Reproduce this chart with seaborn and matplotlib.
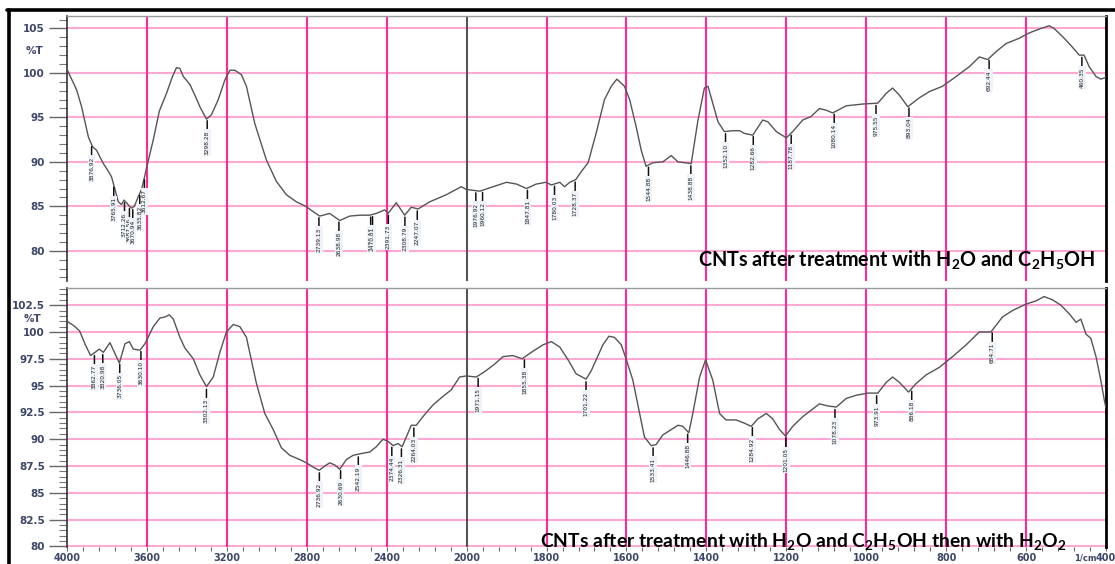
import numpy as np
import matplotlib
matplotlib.use("Agg")
import matplotlib.pyplot as plt
import seaborn as sns
from matplotlib.lines import Line2D
from matplotlib.ticker import FixedLocator

# ---------------- data ----------------
top_wn = [4000, 3952, 3927, 3893, 3872, 3852, 3818, 3792, 3777, 3760, 3743, 3727, 3715, 3702,
          3688, 3677, 3663, 3643, 3627, 3615, 3602, 3568, 3538, 3502, 3472, 3452, 3435, 3418,
          3385, 3360, 3335, 3302, 3277, 3243, 3210, 3185, 3160, 3127, 3102, 3060, 3002, 2952,
          2902, 2852, 2805, 2768, 2735, 2685, 2635, 2585, 2535, 2485, 2452, 2410, 2393, 2352,
          2310, 2277, 2243, 2185, 2102, 2027, 2002, 1984, 1967, 1934, 1900, 1875, 1850, 1826,
          1801, 1788, 1767, 1755, 1742, 1727, 1713, 1696, 1676, 1655, 1638, 1624, 1605, 1592,
          1576, 1563, 1551, 1534, 1509, 1488, 1471, 1455, 1438, 1421, 1405, 1396, 1384, 1371,
          1355, 1334, 1317, 1305, 1284, 1259, 1246, 1225, 1200, 1184, 1159, 1138, 1117, 1100,
          1084, 1050, 1009, 971, 950, 934, 917, 896, 867, 842, 809, 775, 742, 717, 696, 675,
          650, 617, 592, 563, 542, 530, 509, 488, 467, 455, 442, 425, 413, 400]
top_T = [100.4, 98.1, 96.2, 92.8, 91.7, 91.3, 89.8, 88.9, 88.3, 86.9, 85.5, 85.2, 85.7, 85.4,
         85.0, 84.8, 85.0, 86.1, 86.9, 88.0, 89.3, 92.5, 95.7, 97.7, 99.6, 100.6, 100.5, 99.6,
         98.7, 97.5, 96.2, 94.8, 95.3, 97.0, 99.2, 100.3, 100.3, 99.8, 98.5, 94.3, 90.2, 87.8,
         86.3, 85.5, 85.0, 84.4, 83.9, 84.2, 83.4, 83.9, 84.0, 84.0, 84.2, 84.6, 84.2, 85.4,
         84.0, 84.9, 84.7, 85.5, 86.3, 87.2, 86.9, 86.8, 86.7, 87.2, 87.7, 87.5, 87.0, 87.5,
         87.7, 87.4, 87.7, 87.2, 87.7, 88.0, 88.9, 89.9, 93.2, 97.0, 98.5, 99.3, 98.5, 97.0,
         94.0, 91.3, 89.5, 89.9, 90.0, 90.7, 90.0, 89.9, 89.8, 94.7, 98.3, 98.5, 96.6, 94.5,
         93.4, 93.5, 93.5, 93.2, 93.0, 94.7, 94.5, 93.4, 92.7, 93.4, 94.7, 95.1, 96.0, 95.8,
         95.5, 96.3, 96.5, 96.6, 97.7, 98.3, 97.5, 96.2, 97.2, 97.9, 98.5, 99.6, 100.7, 101.8,
         101.5, 102.4, 103.3, 103.9, 104.5, 105.0, 105.3, 105.0, 104.1, 103.1, 102.0, 102.0,
         100.7, 99.6, 99.3, 99.5]

bot_wn = [4000, 3967, 3937, 3908, 3882, 3860, 3838, 3818, 3785, 3760, 3738, 3710, 3688, 3668,
          3635, 3610, 3568, 3535, 3510, 3488, 3468, 3435, 3410, 3368, 3335, 3302, 3268, 3235,
          3202, 3168, 3135, 3102, 3052, 3010, 2968, 2927, 2885, 2835, 2802, 2768, 2738, 2710,
          2685, 2660, 2635, 2602, 2568, 2518, 2485, 2452, 2418, 2393, 2368, 2343, 2323, 2302,
          2277, 2252, 2210, 2168, 2118, 2077, 2035, 2002, 1976, 1955, 1930, 1909, 1884, 1861,
          1846, 1830, 1809, 1788, 1767, 1746, 1726, 1701, 1688, 1671, 1659, 1644, 1630, 1613,
          1601, 1584, 1567, 1555, 1538, 1526, 1509, 1488, 1471, 1459, 1444, 1434, 1417, 1402,
          1384, 1367, 1351, 1326, 1305, 1288, 1271, 1250, 1234, 1217, 1202, 1184, 1159, 1138,
          1117, 1096, 1075, 1050, 1025, 996, 971, 950, 934, 917, 894, 875, 850, 817, 784, 750,
          717, 688, 659, 634, 600, 575, 555, 534, 513, 492, 475, 463, 450, 438, 425, 413, 404, 400]
bot_T = [101.0, 100.6, 100.1, 98.8, 97.8, 98.1, 98.4, 98.1, 99.0, 98.0, 97.1, 98.9, 99.1, 98.4,
         98.3, 98.9, 100.5, 101.3, 101.4, 101.6, 101.2, 99.5, 98.5, 97.5, 96.0, 94.9, 95.8, 98.1,
         100.0, 100.7, 100.5, 99.5, 95.2, 92.4, 90.9, 89.2, 88.5, 88.1, 87.8, 87.4, 87.1, 87.5,
         87.8, 87.6, 87.2, 88.1, 88.5, 88.7, 88.8, 89.3, 90.0, 89.8, 89.4, 89.6, 89.3, 90.2,
         91.3, 91.3, 92.3, 93.2, 94.0, 94.6, 95.8, 95.9, 95.8, 96.3, 97.0, 97.7, 97.8, 97.5,
         97.9, 98.3, 98.8, 99.1, 98.6, 97.4, 96.1, 95.6, 96.4, 97.8, 98.8, 99.6, 99.5, 98.8,
         97.5, 95.5, 92.4, 90.2, 89.4, 89.5, 90.4, 90.9, 91.3, 91.2, 90.6, 92.4, 95.8, 97.4,
         95.5, 92.4, 91.8, 91.8, 91.5, 91.2, 91.9, 92.4, 91.9, 90.9, 90.3, 91.2, 92.1, 92.7,
         93.3, 93.1, 93.0, 93.8, 94.1, 94.3, 94.3, 95.3, 95.8, 95.3, 94.4, 95.2, 96.0, 96.7,
         97.7, 98.8, 100.0, 100.0, 101.4, 102.0, 102.6, 102.9, 103.3, 103.0, 102.5, 101.7,
         100.9, 101.2, 99.8, 99.4, 97.7, 95.5, 93.6, 92.9]

top_peaks = [3876.92, 3765.91, 3712.26, 3687.56, 3670.94, 3635.82, 3612.67, 3298.28, 2739.13,
             2638.98, 2480.10, 2470.81, 2391.73, 2308.79, 2247.07, 1976.92, 1960.12, 1847.81,
             1780.03, 1728.37, 1544.88, 1438.88, 1352.10, 1282.66, 1187.78, 1080.14, 975.55,
             893.04, 692.44, 460.35]
bot_peaks = [3862.77, 3820.98, 3736.05, 3630.10, 3302.13, 2736.92, 2630.69, 2542.19, 2374.44,
             2326.31, 2264.03, 1971.15, 1855.38, 1701.22, 1533.41, 1446.88, 1284.92, 1201.05,
             1078.23, 973.91, 886.18, 684.71]

top_yticks = [80, 85, 90, 95, 100, 105]
bot_yticks = [80, 82.5, 85, 87.5, 90, 92.5, 95, 97.5, 100, 102.5]
x_ticks = [4000, 3600, 3200, 2800, 2400, 2000, 1800, 1600, 1400, 1200, 1000, 800, 600, 400]
top_title = r"CNTs after treatment with H$_2$O and C$_2$H$_5$OH"
bot_title = r"CNTs after treatment with H$_2$O and C$_2$H$_5$OH then with H$_2$O$_2$"

# ---------------- style ----------------
sns.set_style("white")
plt.rcParams['font.family'] = ['DejaVu Sans']
plt.rcParams['mathtext.fontset'] = 'custom'
plt.rcParams['mathtext.rm'] = 'Lato:bold'
plt.rcParams['mathtext.it'] = 'Lato:bold'
plt.rcParams['mathtext.bf'] = 'Lato:bold'

TICK_COL = '#3b4668'
LINE_COL = '#555555'
HGRID = '#ffa8d4'
VGRID = '#ff2a9a'


def fwd(w):
    w = np.asarray(w, dtype=float)
    return np.where(w >= 2000, 8 + (w - 2000) / 400.0, (w - 400) / 200.0)


def inv(u):
    u = np.asarray(u, dtype=float)
    return np.where(u >= 8, 2000 + (u - 8) * 400.0, 400 + u * 200.0)


fig = plt.figure(figsize=(11.15, 5.64), dpi=100)
L, R = 67 / 1115, 1106 / 1115
ax1 = fig.add_axes([L, 1 - 281 / 564, R - L, (281 - 16) / 564])
ax2 = fig.add_axes([L, 1 - 547 / 564, R - L, (547 - 288) / 564])

minor_x = sorted(set(list(np.arange(4000, 2000, -80)) + list(np.arange(2000, 399, -40))))


def setup(ax, wn, T, ylim, yticks, yminor, peaks, show_x):
    ax.set_xscale('function', functions=(fwd, inv))
    sns.lineplot(x=wn, y=T, ax=ax, color=LINE_COL, lw=1.0, estimator=None, sort=False, zorder=5)
    ax.set_xlim(4000, 400)
    ax.set_ylim(*ylim)
    ax.set_xlabel('')
    ax.set_ylabel('')
    ax.set_yticks(yticks)
    ax.yaxis.set_minor_locator(FixedLocator(yminor))
    ax.set_yticklabels([('%g' % v) for v in yticks], fontsize=7.5, fontweight='bold', color=TICK_COL)
    ax.tick_params(axis='y', which='major', length=13, width=1.0, color='#666666', pad=3, left=True)
    ax.tick_params(axis='y', which='minor', length=6, width=0.8, color='#777777', left=True)
    ax.grid(axis='y', which='major', color=HGRID, lw=1.5, zorder=1)
    ax.grid(axis='x', visible=False)
    for v in [3600, 3200, 2800, 2400, 1800, 1600, 1400, 1200, 1000, 800, 600]:
        ax.axvline(v, color=VGRID, lw=1.5, zorder=2)
    ax.axvline(2000, color='#555555', lw=1.5, zorder=2)
    ax.set_xticks(x_ticks)
    ax.xaxis.set_minor_locator(FixedLocator(minor_x))
    if show_x:
        ax.set_xticklabels([str(v) for v in x_ticks], fontsize=7, fontweight='bold', color=TICK_COL)
        ax.tick_params(axis='x', which='both', length=3, width=0.8, color='#666666', pad=1, bottom=True)
    else:
        ax.tick_params(axis='x', which='both', length=0, labelbottom=False)
    ax.spines['left'].set_color('#333333')
    ax.spines['left'].set_linewidth(1.2)
    ax.spines['top'].set_color('#999999')
    ax.spines['top'].set_linewidth(1.0)
    ax.spines['right'].set_color('#000000')
    ax.spines['right'].set_linewidth(2.0)
    ax.spines['bottom'].set_visible(False)
    wn_a = np.asarray(wn)[::-1]
    T_a = np.asarray(T)[::-1]
    for p in peaks:
        tv = float(np.interp(p, wn_a, T_a))
        ax.annotate('%.2f' % p, xy=(p, tv - 0.25), xytext=(0, -7), textcoords='offset points',
                    rotation=90, ha='center', va='top', fontsize=4.2, color='#222222',
                    arrowprops=dict(arrowstyle='-', lw=1.1, color='#111111', shrinkA=0, shrinkB=0),
                    bbox=dict(boxstyle='square,pad=0.2', fc='#eef3fa', ec='none'), zorder=6)


setup(ax1, top_wn, top_T, (76.6, 106.4), top_yticks, list(range(77, 107)), top_peaks, False)
setup(ax2, bot_wn, bot_T, (79.95, 104.1), bot_yticks, list(np.arange(80, 104.01, 0.5)), bot_peaks, True)

# %T labels
fig.text(34 / 1115, 1 - 51 / 564, '%T', fontsize=7.5, fontweight='bold', color=TICK_COL, ha='center', va='center')
fig.text(33 / 1115, 1 - 319 / 564, '%T', fontsize=7.5, fontweight='bold', color=TICK_COL, ha='center', va='center')
fig.text(1085 / 1115, 1 - 558 / 564, '1/cm', fontsize=6, fontweight='bold', color=TICK_COL, ha='center', va='center')

# panel captions
ax1.text(0.607, 0.035, top_title, transform=ax1.transAxes, fontsize=14.2, fontweight='bold',
         family='Lato', color='black', ha='left', va='bottom', zorder=7)
ax2.text(0.455, -0.02, bot_title, transform=ax2.transAxes, fontsize=13.9, fontweight='bold',
         family='Lato', color='black', ha='left', va='bottom', zorder=7, clip_on=False)

# outer black frame (top and left)
fig.add_artist(Line2D([7 / 1115, 1.0], [1 - 10 / 564, 1 - 10 / 564], transform=fig.transFigure, color='black', lw=2.6))
fig.add_artist(Line2D([8.5 / 1115, 8.5 / 1115], [0, 1 - 10 / 564], transform=fig.transFigure, color='black', lw=2.6))

fig.savefig('out.png', dpi=100, facecolor='white')
